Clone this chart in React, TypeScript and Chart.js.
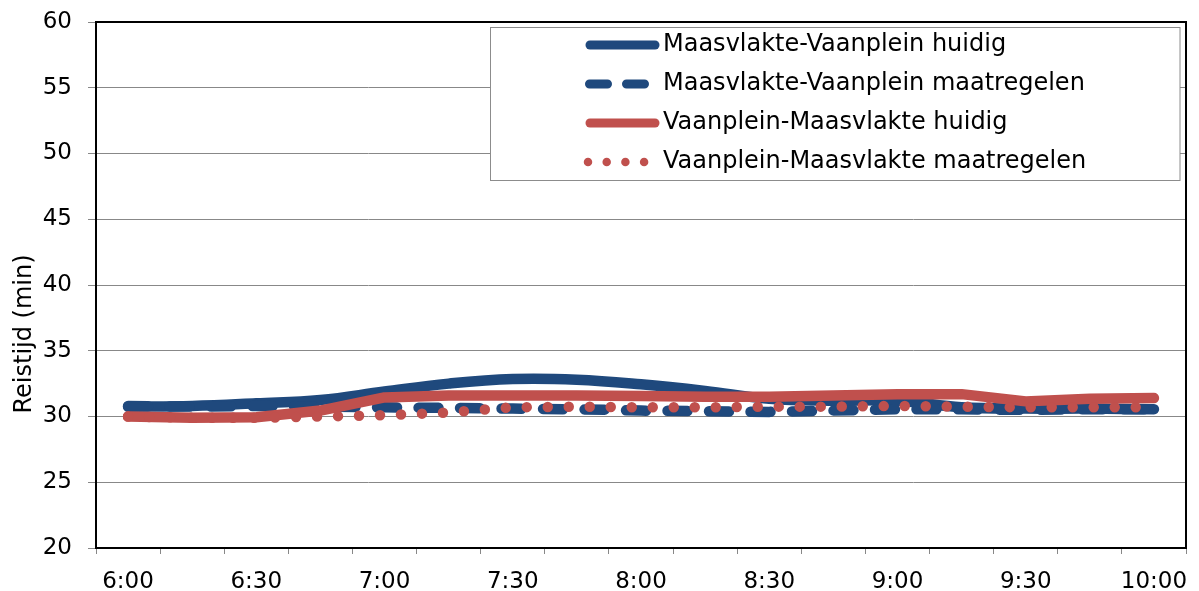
import { useEffect, useRef } from 'react';
import { Chart, registerables } from 'chart.js';

Chart.register(...registerables);

// Time of departure, every quarter of an hour
const times = [
  '6:00', '6:15', '6:30', '6:45', '7:00', '7:15', '7:30', '7:45', '8:00',
  '8:15', '8:30', '8:45', '9:00', '9:15', '9:30', '9:45', '10:00',
];

// Travel times in minutes
const mvVpHuidig = [30.75, 30.8, 31.0, 31.25, 31.9, 32.5, 32.85, 32.8, 32.45, 31.95, 31.35, 31.2, 31.2, 30.7, 30.6, 30.6, 30.55];
const mvVpMaatregelen = [30.8, 30.75, 30.8, 30.75, 30.7, 30.65, 30.6, 30.55, 30.45, 30.4, 30.35, 30.45, 30.55, 30.55, 30.5, 30.55, 30.55];
const vpMvHuidig = [30.0, 29.9, 29.95, 30.45, 31.45, 31.6, 31.6, 31.6, 31.55, 31.5, 31.5, 31.6, 31.7, 31.7, 31.15, 31.35, 31.4];
const vpMvMaatregelen = [30.0, 29.9, 29.9, 30.0, 30.1, 30.3, 30.7, 30.75, 30.7, 30.7, 30.75, 30.75, 30.8, 30.75, 30.7, 30.7, 30.7];

const seriesNames = [
  'Maasvlakte-Vaanplein huidig',
  'Maasvlakte-Vaanplein maatregelen',
  'Vaanplein-Maasvlakte huidig',
  'Vaanplein-Maasvlakte maatregelen',
];

const yTitle = 'Reistijd (min)';
const yMin = 20;
const yMax = 60;
const yStep = 5;

const BLUE = '#1F497D';
const RED = '#C0504D';
const FONT = '"DejaVu Sans", Verdana, sans-serif';
const TICK_SIZE = 23;
const TEXT_SIZE = 24;
const LINE_W = 10.5;

type Sample = { color: string; kind: 'solid' | 'dash' | 'dot' };
const samples: Sample[] = [
  { color: BLUE, kind: 'solid' },
  { color: BLUE, kind: 'dash' },
  { color: RED, kind: 'solid' },
  { color: RED, kind: 'dot' },
];

const decorPlugin = {
  id: 'decor',
  afterDatasetsDraw(chart: any) {
    const { ctx, chartArea: a } = chart;
    ctx.save();
    ctx.strokeStyle = '#000';
    ctx.lineWidth = 2;
    ctx.strokeRect(a.left, a.top, a.right - a.left, a.bottom - a.top);
    ctx.restore();
  },
  afterDraw(chart: any) {
    const { ctx, chartArea: a } = chart;
    ctx.save();

    // y-axis title
    ctx.save();
    ctx.translate(25, 334);
    ctx.rotate(-Math.PI / 2);
    ctx.font = `${TEXT_SIZE}px ${FONT}`;
    ctx.fillStyle = '#000';
    ctx.textAlign = 'center';
    ctx.textBaseline = 'middle';
    ctx.fillText(yTitle, 0, 0);
    ctx.restore();

    // legend box
    const bx = 490.5;
    const by = a.top + 5.5;
    const bw = a.right - 6 - bx;
    const bh = 153;
    ctx.fillStyle = '#fff';
    ctx.fillRect(bx, by, bw, bh);
    ctx.strokeStyle = '#8c8c8c';
    ctx.lineWidth = 1;
    ctx.strokeRect(bx, by, bw, bh);

    const rowY = [45, 84, 123, 162];
    samples.forEach((s, i) => {
      const y = rowY[i];
      ctx.save();
      ctx.strokeStyle = s.color;
      ctx.lineCap = 'round';
      ctx.beginPath();
      if (s.kind === 'solid') {
        ctx.lineWidth = 9;
        ctx.moveTo(590, y);
        ctx.lineTo(655, y);
      } else if (s.kind === 'dash') {
        ctx.lineWidth = 9;
        ctx.setLineDash([18, 19]);
        ctx.moveTo(589.5, y);
        ctx.lineTo(655, y);
      } else {
        ctx.lineWidth = 8.5;
        ctx.setLineDash([0, 18.7]);
        ctx.moveTo(588, y);
        ctx.lineTo(650, y);
      }
      ctx.stroke();
      ctx.restore();

      ctx.font = `${TEXT_SIZE}px ${FONT}`;
      ctx.fillStyle = '#000';
      ctx.textAlign = 'left';
      ctx.textBaseline = 'middle';
      ctx.fillText(seriesNames[i], 663, y);
    });

    ctx.restore();
  },
};

export default function App() {
  const canvasRef = useRef<HTMLCanvasElement | null>(null);

  useEffect(() => {
    if (!canvasRef.current) return;
    const chart = new Chart(canvasRef.current, {
      type: 'line',
      data: {
        labels: times,
        datasets: [
          {
            label: seriesNames[0],
            data: mvVpHuidig,
            borderColor: BLUE,
            borderWidth: LINE_W,
            borderCapStyle: 'round',
            borderJoinStyle: 'round',
            tension: 0.4,
            pointRadius: 0,
            order: 3,
          },
          {
            label: seriesNames[1],
            data: mvVpMaatregelen,
            borderColor: BLUE,
            borderWidth: LINE_W,
            borderDash: [20, 21.5],
            borderCapStyle: 'round',
            borderJoinStyle: 'round',
            tension: 0,
            pointRadius: 0,
            order: 2,
          },
          {
            label: seriesNames[2],
            data: vpMvHuidig,
            borderColor: RED,
            borderWidth: LINE_W,
            borderCapStyle: 'round',
            borderJoinStyle: 'round',
            tension: 0,
            pointRadius: 0,
            order: 1,
          },
          {
            label: seriesNames[3],
            data: vpMvMaatregelen,
            borderColor: RED,
            borderWidth: LINE_W,
            borderDash: [0, 21],
            borderCapStyle: 'round',
            borderJoinStyle: 'round',
            tension: 0,
            pointRadius: 0,
            order: 0,
          },
        ],
      },
      options: {
        animation: false,
        responsive: true,
        maintainAspectRatio: false,
        layout: { padding: { left: 0, top: 22, right: 13, bottom: 0 } },
        plugins: {
          legend: { display: false },
          tooltip: { enabled: false },
        },
        scales: {
          x: {
            type: 'category',
            offset: true,
            border: { display: false },
            grid: {
              offset: true,
              drawOnChartArea: false,
              drawTicks: true,
              tickLength: 6,
              color: '#888',
            },
            ticks: {
              autoSkip: false,
              maxRotation: 0,
              minRotation: 0,
              padding: 14,
              color: '#000',
              font: { family: FONT, size: TICK_SIZE },
              callback: (_v: any, i: number) => (i % 2 === 0 ? times[i] : ''),
            },
            afterFit: (scale: any) => {
              scale.height = 43;
              scale.paddingLeft = 0;
              scale.paddingRight = 0;
            },
          },
          y: {
            min: yMin,
            max: yMax,
            border: { display: false },
            grid: {
              color: '#888',
              drawTicks: true,
              tickLength: 8,
            },
            ticks: {
              stepSize: yStep,
              padding: 16,
              color: '#000',
              font: { family: FONT, size: TICK_SIZE },
            },
            afterFit: (scale: any) => {
              scale.width = 96;
              scale.paddingTop = 0;
              scale.paddingBottom = 0;
            },
          },
        },
      },
      plugins: [decorPlugin],
    });
    return () => chart.destroy();
  }, []);

  return (
    <div style={{ position: 'absolute', left: 0, top: 0, width: 1199, height: 591, background: '#fff' }}>
      <canvas ref={canvasRef} />
    </div>
  );
}
